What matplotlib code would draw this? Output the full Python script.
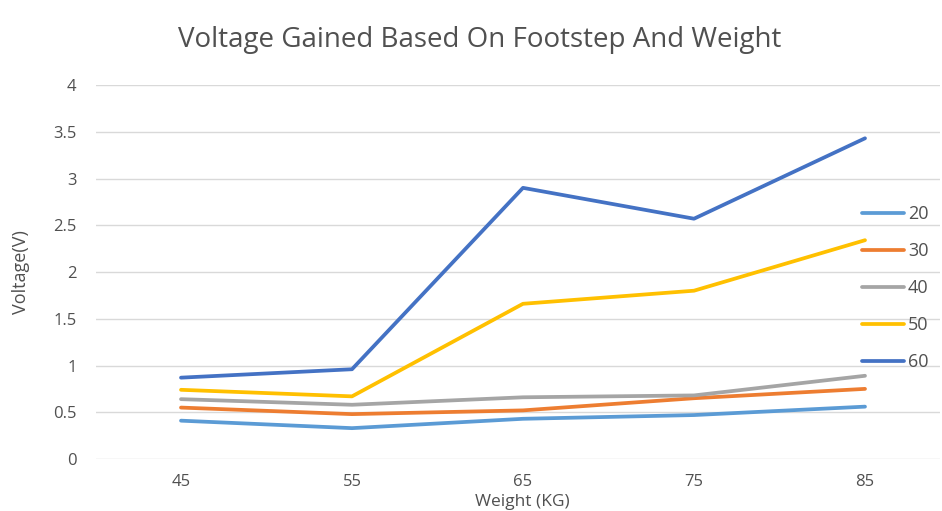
import numpy as np
import matplotlib.pyplot as plt

# Weight categories (KG) and footstep series
weights = ["45", "55", "65", "75", "85"]
series_names = ["20", "30", "40", "50", "60"]
v20 = [0.41, 0.33, 0.43, 0.47, 0.56]
v30 = [0.55, 0.48, 0.52, 0.65, 0.75]
v40 = [0.64, 0.58, 0.66, 0.68, 0.89]
v50 = [0.74, 0.67, 1.66, 1.80, 2.34]
v60 = [0.87, 0.96, 2.90, 2.57, 3.43]
colors = ["#5B9BD5", "#ED7D31", "#A5A5A5", "#FFC000", "#4472C4"]

plt.rcParams['font.family'] = ['Open Sans', 'DejaVu Sans']

W, H = 942, 511
fig = plt.figure(figsize=(W / 100, H / 100), dpi=100)
# plot area in pixels
left_px, right_px, top_px, bottom_px = 96, 940, 85, 459
ax = fig.add_axes([left_px / W, 1 - bottom_px / H, (right_px - left_px) / W, (bottom_px - top_px) / H])

x = np.arange(len(weights))
step_px = 171
x0_px = 181
ax.set_xlim((left_px - x0_px) / step_px, (right_px - x0_px) / step_px)
ax.set_ylim(0, 4)

for name, vals, c in zip(series_names, [v20, v30, v40, v50, v60], colors):
    ax.plot(x, vals, color=c, linewidth=2.7, label=name, solid_capstyle="round", zorder=3)

ax.set_yticks(np.arange(0, 4.01, 0.5))
ax.set_yticklabels(["0", "0.5", "1", "1.5", "2", "2.5", "3", "3.5", "4"])
ax.set_xticks(x)
ax.set_xticklabels(weights)
ax.grid(axis="y", color="#D9D9D9", linewidth=1)
ax.set_axisbelow(True)
for s in ["top", "right", "left", "bottom"]:
    ax.spines[s].set_visible(False)
ax.tick_params(length=0, labelsize=12, colors="#505050")
ax.tick_params(axis="x", pad=11)
ax.tick_params(axis="y", pad=14)

ax.set_ylabel("Voltage(V)", fontsize=13, color="#505050")
ax.yaxis.set_label_coords(-(96 - 30) / (right_px - left_px), 0.5)
ax.set_xlabel("Weight (KG)", fontsize=12.5, color="#505050", va="center")
ax.xaxis.set_label_coords((522 - left_px) / (right_px - left_px), -(502 - bottom_px) / (bottom_px - top_px))

fig.text(480 / W, 1 - 40 / H, "Voltage Gained Based On Footstep And Weight",
         ha="center", va="center", fontsize=20, color="#505050")

leg = ax.legend(loc="upper left", bbox_to_anchor=(862 / W, 1 - 205 / H), bbox_transform=fig.transFigure,
                frameon=False, fontsize=13, handlelength=2.3, handletextpad=0.25,
                labelspacing=1.05, borderaxespad=0, borderpad=0)
for t in leg.get_texts():
    t.set_color("#505050")

fig.savefig("out.png", dpi=100)
